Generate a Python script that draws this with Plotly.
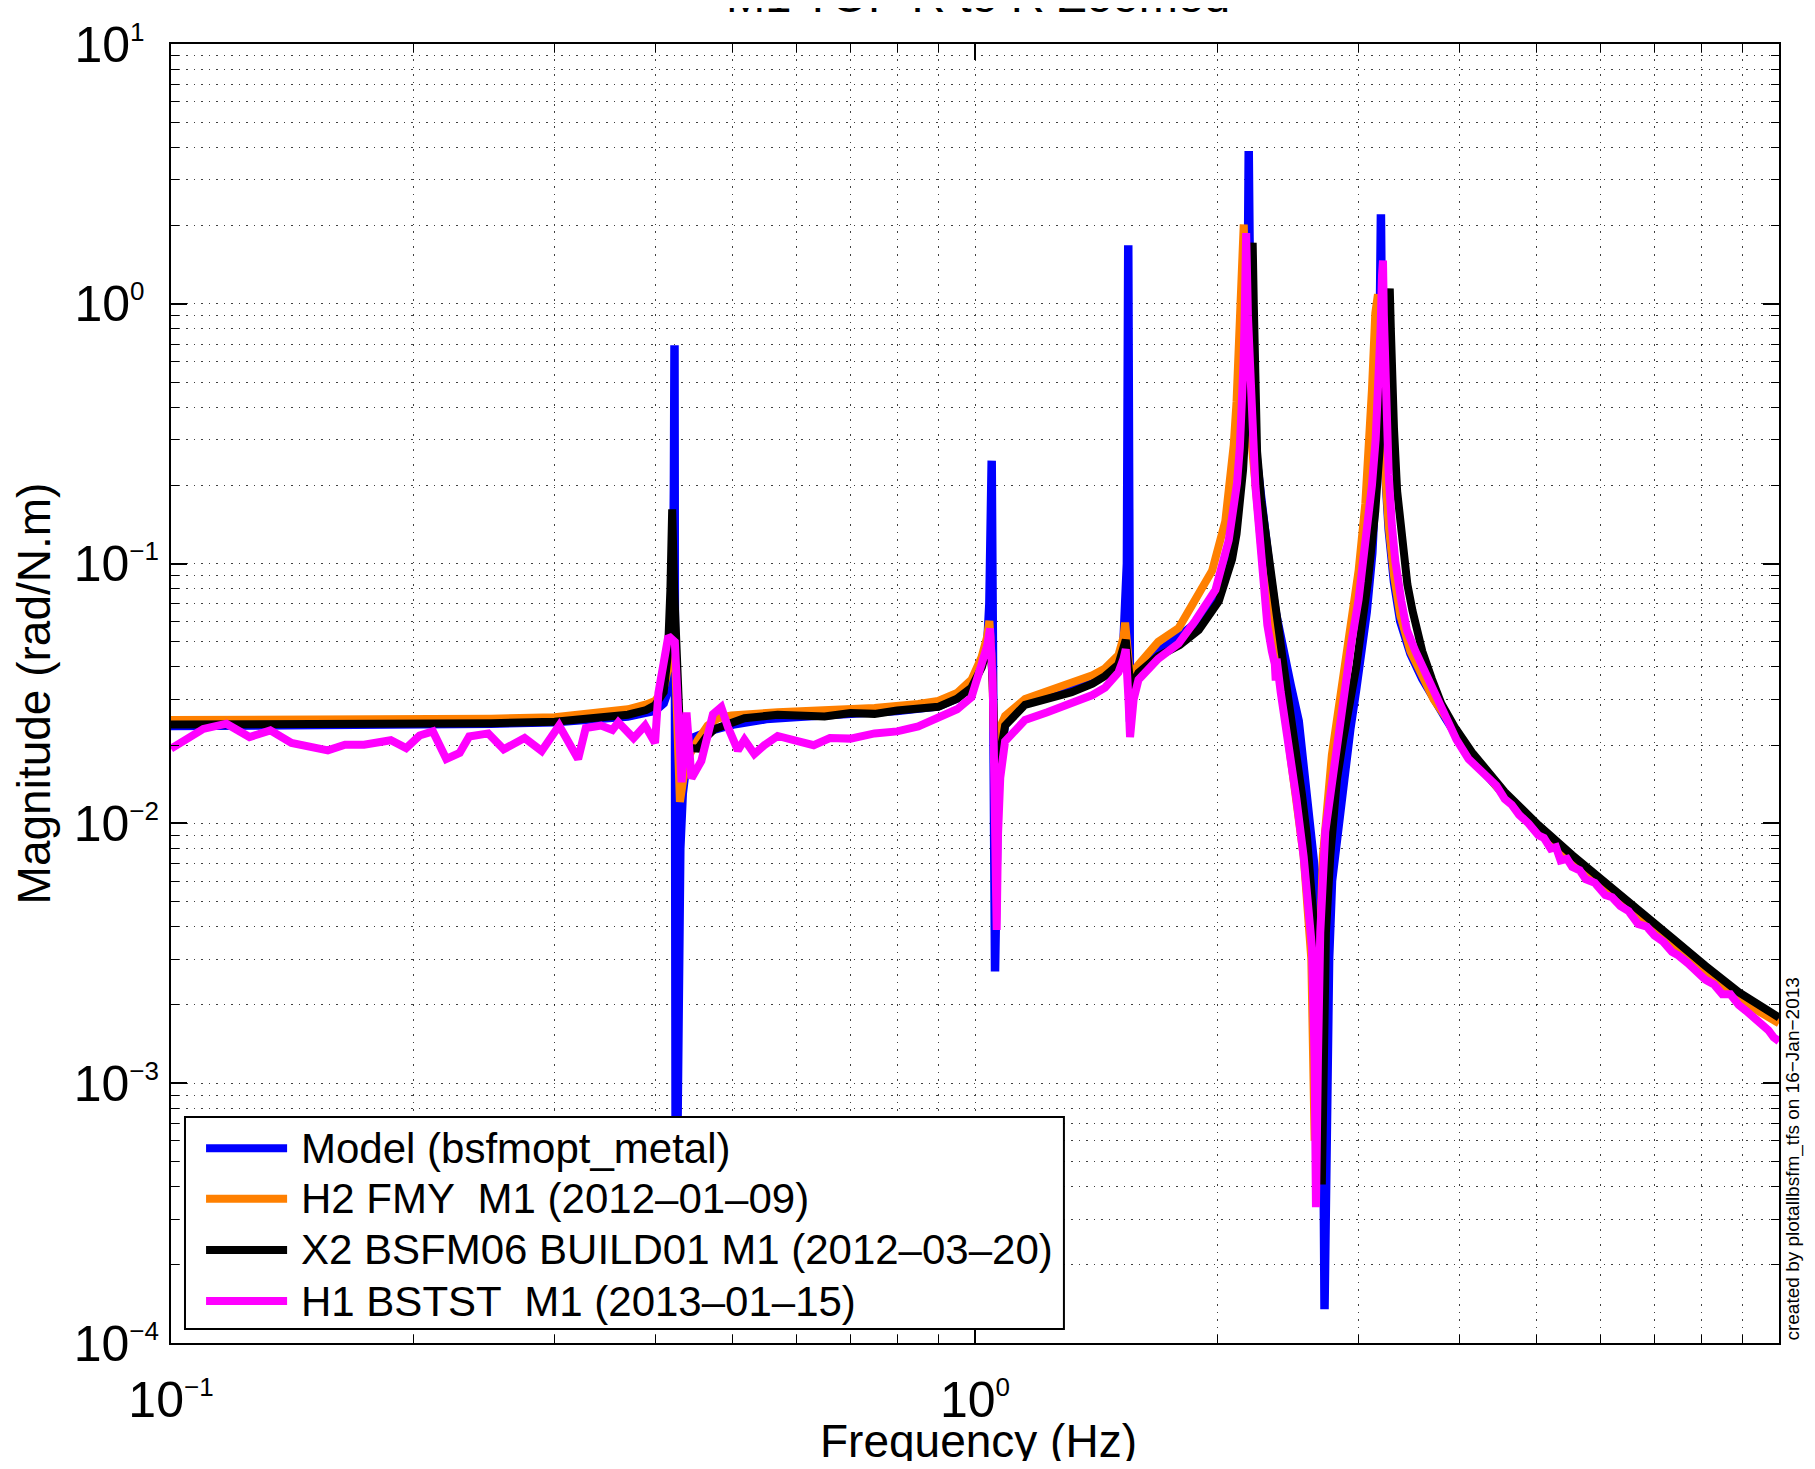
import plotly.graph_objects as go

# ---------------- data ----------------
model_freq = [0.100, 0.150, 0.200, 0.250, 0.300, 0.340, 0.370, 0.390, 0.400, 0.410, 0.4155, 0.419, 0.421, 0.4222, 0.4229,
              0.4245, 0.4270, 0.4300, 0.4330, 0.4380, 0.4482, 0.470, 0.500, 0.550, 0.600, 0.700, 0.800, 0.900, 0.950,
              0.990, 1.020, 1.035, 1.042, 1.046, 1.049, 1.059, 1.063, 1.068, 1.075, 1.090, 1.154, 1.230, 1.319, 1.400,
              1.451, 1.508, 1.530, 1.545, 1.551, 1.559, 1.565, 1.597, 1.650, 1.700, 1.797, 1.898, 2.010, 2.050, 2.088,
              2.115, 2.138, 2.155, 2.165, 2.172, 2.178, 2.182, 2.186, 2.190, 2.195, 2.202, 2.215, 2.243, 2.270, 2.297,
              2.330, 2.364, 2.420, 2.470, 2.527, 2.600, 2.655, 2.688, 2.708, 2.721, 2.735, 2.757, 2.780, 2.846, 2.929,
              2.980, 3.028, 3.070, 3.120, 3.150, 3.170, 3.182, 3.190, 3.195, 3.198, 3.205, 3.215, 3.223, 3.245, 3.270,
              3.320, 3.380, 3.480, 3.600, 3.720, 3.846, 4.000, 4.150, 4.560, 5.020, 5.530, 6.080, 6.680, 7.360, 8.100,
              8.910, 10.00]
model_mag = [0.0237, 0.0238, 0.0240, 0.0242, 0.0245, 0.0250, 0.0258, 0.0267, 0.0271, 0.0290, 0.0327, 0.042, 0.070, 0.20, 0.693,
             0.00015, 0.0030, 0.0080, 0.0130, 0.0175, 0.0215, 0.0228, 0.0240, 0.0252, 0.0257, 0.0263, 0.0271, 0.0282, 0.0303,
             0.0340, 0.0415, 0.0470, 0.070, 0.120, 0.249, 0.00269, 0.0070, 0.0130, 0.0180, 0.0240, 0.0295, 0.0315, 0.0338, 0.0360,
             0.0382, 0.0425, 0.050, 0.100, 1.68, 0.0246, 0.0330, 0.0400, 0.0430, 0.0470, 0.0520, 0.0600, 0.0780, 0.093, 0.118,
             0.150, 0.200, 0.280, 0.420, 0.600, 0.900, 1.20, 1.80, 3.87, 1.80, 0.900, 0.450, 0.245, 0.170, 0.125,
             0.090, 0.066, 0.045, 0.034, 0.0248, 0.0117, 0.0060, 0.0030, 0.00123, 0.000135, 0.0012, 0.0030, 0.0060, 0.0117, 0.0230,
             0.0330, 0.0453, 0.065, 0.110, 0.180, 0.300, 0.500, 0.900, 1.50, 2.21, 1.00, 0.500, 0.340, 0.200, 0.135,
             0.085, 0.060, 0.045, 0.036, 0.030, 0.0255, 0.0210, 0.0178, 0.0128, 0.0096, 0.0073, 0.0057, 0.0044, 0.0035, 0.00275,
             0.00217, 0.00172]

h2_freq = [0.100, 0.150, 0.200, 0.250, 0.300, 0.340, 0.370, 0.390, 0.400, 0.410, 0.4155, 0.4195, 0.4213, 0.4240, 0.4265,
           0.4295, 0.4340, 0.4420, 0.4524, 0.4650, 0.4790, 0.4975, 0.5683, 0.650, 0.750, 0.850, 0.900, 0.950, 0.990, 1.019,
           1.035, 1.042, 1.050, 1.058, 1.065, 1.075, 1.090, 1.154, 1.230, 1.319, 1.400, 1.451, 1.508, 1.530, 1.537, 1.550,
           1.559, 1.575, 1.597, 1.690, 1.792, 1.862, 1.972, 2.048, 2.075, 2.098, 2.115, 2.128, 2.142, 2.152, 2.159, 2.166,
           2.175, 2.190, 2.210, 2.240, 2.280, 2.330, 2.400, 2.466, 2.563, 2.620, 2.645, 2.665, 2.690, 2.708, 2.779, 2.873,
           2.943, 3.000, 3.058, 3.090, 3.117, 3.147, 3.171, 3.180, 3.190, 3.205, 3.220, 3.245, 3.270, 3.320, 3.381, 3.480,
           3.600, 3.720, 3.846, 4.000, 4.150, 4.560, 5.020, 5.530, 6.080, 6.680, 7.360, 8.100, 8.910, 10.00]
h2_mag = [0.0250, 0.0250, 0.0252, 0.0253, 0.0256, 0.0265, 0.0275, 0.0287, 0.0296, 0.0330, 0.040, 0.052, 0.0637, 0.040, 0.020,
          0.0121, 0.0150, 0.0185, 0.0210, 0.0238, 0.0254, 0.0260, 0.0268, 0.0271, 0.0278, 0.0288, 0.0296, 0.0318, 0.0357, 0.0437,
          0.052, 0.0602, 0.040, 0.018, 0.019, 0.0235, 0.0259, 0.0301, 0.0322, 0.0345, 0.0372, 0.0395, 0.0444, 0.052, 0.0592, 0.045,
          0.0357, 0.0385, 0.0408, 0.0500, 0.0565, 0.0692, 0.0938, 0.1456, 0.200, 0.286, 0.420, 0.667, 1.10, 1.60, 2.02, 1.30,
          0.80, 0.45, 0.285, 0.165, 0.100, 0.062, 0.040, 0.0184, 0.0075, 0.0030, 0.0006, 0.0016, 0.0045, 0.00746, 0.0184, 0.0361,
          0.0615, 0.094, 0.1695, 0.260, 0.468, 0.92, 1.088, 0.80, 0.60, 0.40, 0.30, 0.20, 0.140, 0.090, 0.063, 0.046,
          0.037, 0.030, 0.0258, 0.0215, 0.0180, 0.0127, 0.0094, 0.0072, 0.0056, 0.0044, 0.0034, 0.0027, 0.0021, 0.0017]

x2_freq = [0.100, 0.150, 0.200, 0.250, 0.300, 0.340, 0.370, 0.390, 0.400, 0.410, 0.4150, 0.4180, 0.4201, 0.4225, 0.4250,
           0.4290, 0.4335, 0.4420, 0.4524, 0.4630, 0.4745, 0.4975, 0.5167, 0.5683, 0.600, 0.650, 0.700, 0.750, 0.800, 0.850,
           0.900, 0.950, 0.990, 1.020, 1.035, 1.044, 1.052, 1.062, 1.070, 1.080, 1.090, 1.154, 1.230, 1.319, 1.400, 1.451,
           1.508, 1.530, 1.540, 1.552, 1.562, 1.597, 1.690, 1.797, 1.898, 2.010, 2.050, 2.088, 2.115, 2.138, 2.155, 2.170,
           2.185, 2.195, 2.205, 2.215, 2.222, 2.228, 2.235, 2.243, 2.270, 2.297, 2.330, 2.370, 2.408, 2.450, 2.502, 2.550,
           2.587, 2.620, 2.645, 2.662, 2.675, 2.690, 2.700, 2.710, 2.719, 2.732, 2.766, 2.819, 2.870, 2.930, 2.980, 3.028,
           3.080, 3.147, 3.180, 3.208, 3.235, 3.254, 3.270, 3.280, 3.290, 3.300, 3.320, 3.350, 3.400, 3.450, 3.500, 3.600,
           3.700, 3.800, 3.950, 4.150, 4.560, 5.020, 5.530, 6.080, 6.680, 7.360, 8.100, 8.910, 10.00]
x2_mag = [0.0240, 0.0240, 0.0242, 0.0243, 0.0246, 0.0253, 0.0262, 0.0273, 0.0285, 0.0320, 0.045, 0.080, 0.1618, 0.080, 0.040,
          0.025, 0.0200, 0.0195, 0.0194, 0.0215, 0.0231, 0.0242, 0.0254, 0.0262, 0.0262, 0.0258, 0.0266, 0.0264, 0.0272, 0.0276,
          0.0281, 0.0302, 0.0333, 0.0400, 0.046, 0.0520, 0.035, 0.0120, 0.0170, 0.0215, 0.0238, 0.0286, 0.0302, 0.0320, 0.0345, 0.0369,
          0.0409, 0.046, 0.0508, 0.040, 0.0333, 0.0380, 0.0440, 0.0485, 0.0555, 0.0716, 0.085, 0.1038, 0.130, 0.1723, 0.230, 0.339,
          0.50, 0.80, 1.20, 1.718, 1.00, 0.65, 0.40, 0.27, 0.175, 0.130, 0.090, 0.062, 0.0453, 0.031, 0.0201, 0.013,
          0.00893, 0.0058, 0.0038, 0.0022, 0.00123, 0.0006, 0.000408, 0.0008, 0.00123, 0.0038, 0.00746, 0.0147, 0.021, 0.029, 0.040, 0.058,
          0.085, 0.160, 0.240, 0.370, 0.600, 0.900, 1.10, 1.145, 0.80, 0.55, 0.33, 0.19, 0.115, 0.083, 0.066, 0.046,
          0.036, 0.029, 0.0235, 0.0188, 0.0132, 0.00986, 0.00756, 0.00589, 0.00459, 0.00363, 0.00283, 0.00224, 0.00179]

h1_freq = [0.100, 0.1097, 0.1172, 0.1252, 0.1329, 0.1412, 0.1567, 0.1646, 0.1738, 0.1877, 0.1961, 0.2038, 0.2117, 0.2200,
           0.2286, 0.2349, 0.2481, 0.2593, 0.2753, 0.2891, 0.3039, 0.3209, 0.3280, 0.3427, 0.3540, 0.3600, 0.3761, 0.3887,
           0.4000, 0.4038, 0.4155, 0.4233, 0.4315, 0.4377, 0.4440, 0.4567, 0.4721, 0.4835, 0.4928, 0.5070, 0.5167, 0.5316,
           0.5470, 0.5683, 0.600, 0.630, 0.660, 0.700, 0.750, 0.800, 0.850, 0.900, 0.950, 0.990, 1.019, 1.035, 1.044, 1.052,
           1.058, 1.064, 1.068, 1.075, 1.090, 1.154, 1.230, 1.319, 1.400, 1.451, 1.508, 1.530, 1.540, 1.552, 1.559, 1.575,
           1.597, 1.690, 1.792, 1.880, 1.991, 2.068, 2.095, 2.118, 2.135, 2.148, 2.158, 2.165, 2.174, 2.185, 2.200, 2.215,
           2.232, 2.250, 2.270, 2.290, 2.310, 2.340, 2.360, 2.366, 2.372, 2.400, 2.430, 2.466, 2.510, 2.563, 2.600, 2.625,
           2.645, 2.655, 2.670, 2.688, 2.727, 2.806, 2.887, 2.940, 3.000, 3.060, 3.117, 3.150, 3.177, 3.195, 3.208, 3.217,
           3.225, 3.235, 3.250, 3.270, 3.300, 3.333, 3.390, 3.445, 3.530, 3.631, 3.730, 3.846, 3.970, 4.110, 4.250, 4.350,
           4.450, 4.560, 4.650, 4.750, 4.880, 5.020, 5.100, 5.200, 5.280, 5.350, 5.450, 5.530, 5.650, 5.750, 5.900, 6.080,
           6.200, 6.350, 6.500, 6.680, 6.850, 7.000, 7.180, 7.360, 7.500, 7.700, 7.900, 8.100, 8.300, 8.500, 8.700, 8.910,
           9.100, 9.300, 9.500, 9.700, 9.850, 10.00]
h1_mag = [0.0194, 0.0231, 0.0242, 0.0215, 0.0228, 0.0204, 0.0191, 0.0201, 0.0201, 0.0209, 0.0195, 0.0218, 0.0226, 0.0177,
          0.0187, 0.0216, 0.0222, 0.0193, 0.0213, 0.0190, 0.0238, 0.0177, 0.0233, 0.0238, 0.0229, 0.0245, 0.0213, 0.0238,
          0.0204, 0.0317, 0.0526, 0.0500, 0.0144, 0.0267, 0.0149, 0.0174, 0.0263, 0.0280, 0.0235, 0.0191, 0.0210, 0.0185,
          0.0200, 0.0217, 0.0208, 0.0200, 0.0213, 0.0212, 0.0222, 0.0226, 0.0236, 0.0254, 0.0275, 0.0306, 0.041, 0.048, 0.0563, 0.035,
          0.012, 0.00389, 0.009, 0.015, 0.0207, 0.0250, 0.0268, 0.0291, 0.0312, 0.0333, 0.0381, 0.043, 0.0468, 0.030, 0.0215, 0.030,
          0.0357, 0.0430, 0.0493, 0.0604, 0.0792, 0.123, 0.155, 0.204, 0.280, 0.401, 0.600, 0.90, 1.87, 0.90, 0.50, 0.32,
          0.20, 0.150, 0.113, 0.075, 0.058, 0.046, 0.041, 0.0355, 0.043, 0.032, 0.025, 0.0184, 0.0125, 0.00746, 0.0048, 0.00332,
          0.00123, 0.000333, 0.00123, 0.0038, 0.0093, 0.0184, 0.0361, 0.050, 0.0728, 0.115, 0.2007, 0.300, 0.468, 0.80, 1.29, 1.466,
          0.90, 0.55, 0.33, 0.22, 0.14, 0.102, 0.072, 0.0555, 0.046, 0.0383, 0.031, 0.0264, 0.0210, 0.0177, 0.0160, 0.0148,
          0.0140, 0.0124, 0.0118, 0.0108, 0.0100, 0.0090, 0.0088, 0.0080, 0.0081, 0.0072, 0.0073, 0.0068, 0.0066, 0.0061, 0.0059, 0.0053,
          0.0052, 0.0048, 0.0046, 0.0041, 0.0040, 0.0037, 0.0035, 0.0032, 0.0031, 0.0029, 0.0027, 0.0025, 0.0024, 0.0022, 0.0022, 0.0020,
          0.0019, 0.0018, 0.0017, 0.0016, 0.0015, 0.00145]

series_names = ["Model (bsfmopt_metal)", "H2 FMY  M1 (2012\u201301\u201309)",
                "X2 BSFM06 BUILD01 M1 (2012\u201303\u201320)", "H1 BSTST  M1 (2013\u201301\u201315)"]
series_colors = ["#0000FF", "#FF8000", "#000000", "#FF00FF"]

SUP = "<sup><span style='font-size:26px'>{}</span></sup>"
x_tick_vals = [0.1, 1, 10]
x_tick_text = ["10" + SUP.format("\u22121"), "10" + SUP.format("0"), "10" + SUP.format("1")]
y_tick_vals = [1e-4, 1e-3, 1e-2, 1e-1, 1, 10]
# figure-space padding keeps the "10" bases left-aligned, as in the reference
y_tick_text = ["10" + SUP.format("\u22124"), "10" + SUP.format("\u22123"), "10" + SUP.format("\u22122"),
               "10" + SUP.format("\u22121"), "10" + SUP.format("0\u2007"), "10" + SUP.format("1\u2007")]

FONT = "Liberation Sans, Arial, Helvetica, sans-serif"
GRID = "rgba(0,0,0,0.75)"
GRID_DASH = "1.5px,6px"

fig = go.Figure()
all_series = [(model_freq, model_mag), (h2_freq, h2_mag), (x2_freq, x2_mag), (h1_freq, h1_mag)]
widths = [8.5, 8, 8, 8]
for (fr, mg), name, col, w in zip(all_series, series_names, series_colors, widths):
    fig.add_trace(go.Scatter(x=fr, y=mg, mode="lines", name=name,
                             line=dict(color=col, width=w), showlegend=False))


def minor_vals(lo_exp, hi_exp):
    return [k * 10.0 ** e for e in range(lo_exp, hi_exp) for k in range(2, 10)]


axis_common = dict(
    type="log", ticks="inside", ticklen=16, tickwidth=1.5, tickcolor="black",
    showline=True, linecolor="black", linewidth=2, mirror="ticks", automargin=False,
    showgrid=True, gridcolor=GRID, gridwidth=1.2, griddash=GRID_DASH, zeroline=False,
    tickfont=dict(family=FONT, size=50, color="black"),
)
minor_common = dict(tickmode="array", ticks="inside", ticklen=8, tickcolor="black", tickwidth=1,
                    showgrid=True, gridcolor=GRID, gridwidth=1.2, griddash=GRID_DASH)

fig.update_xaxes(range=[-1, 1], tickmode="array", tickvals=x_tick_vals, ticktext=x_tick_text,
                 minor=dict(tickvals=minor_vals(-1, 1), **minor_common),
                 ticklabelstandoff=12,
                 **axis_common)
fig.update_yaxes(range=[-4, 1], tickmode="array", tickvals=y_tick_vals, ticktext=y_tick_text,
                 minor=dict(tickvals=minor_vals(-4, 1), **minor_common),
                 title=dict(text="Magnitude (rad/N.m)", font=dict(family=FONT, size=46, color="black"), standoff=14),
                 ticklabelstandoff=0,
                 **axis_common)

# custom legend box (MATLAB style)
shapes = [dict(type="rect", xref="paper", yref="paper", x0=0.0087, x1=0.5553, y0=0.0108, y1=0.174,
               line=dict(color="black", width=2), fillcolor="white", layer="above")]
annotations = []
row_y = [0.150, 0.111, 0.0716, 0.0323]
for yy, name, col in zip(row_y, series_names, series_colors):
    shapes.append(dict(type="line", xref="paper", yref="paper", x0=0.0218, x1=0.0722, y0=yy, y1=yy,
                       line=dict(color=col, width=8), layer="above"))
    annotations.append(dict(xref="paper", yref="paper", x=0.0794, y=yy, xanchor="left", yanchor="middle",
                            text=name, showarrow=False, font=dict(family=FONT, size=42, color="black")))

# x-axis title placed below the tick labels
annotations.append(dict(xref="paper", yref="paper", x=0.502, y=-0.0754, xanchor="center", yanchor="middle",
                        text="Frequency (Hz)", showarrow=False,
                        font=dict(family=FONT, size=46, color="black")))
annotations.append(dict(xref="paper", yref="paper", x=0.502, y=1.037, xanchor="center", yanchor="middle",
                        text="M1 TOP R to R Zoomed", showarrow=False,
                        font=dict(family=FONT, size=47, color="black")))
annotations.append(dict(xref="paper", yref="paper", x=1.0081, y=0.0, xanchor="center", yanchor="bottom",
                        text="created by plotallbsfm_tfs on 16\u2212Jan\u22122013", textangle=-90, showarrow=False,
                        font=dict(family=FONT, size=19, color="black")))

# page body has an 8px margin: shrink the figure so the plot box lands where the reference has it
fig.update_layout(width=1799, height=1453, margin=dict(l=163, r=28, t=36, b=118, autoexpand=False),
                  paper_bgcolor="white", plot_bgcolor="white",
                  font=dict(family=FONT, color="black"),
                  shapes=shapes, annotations=annotations, showlegend=False)

fig.write_html("out.html")
